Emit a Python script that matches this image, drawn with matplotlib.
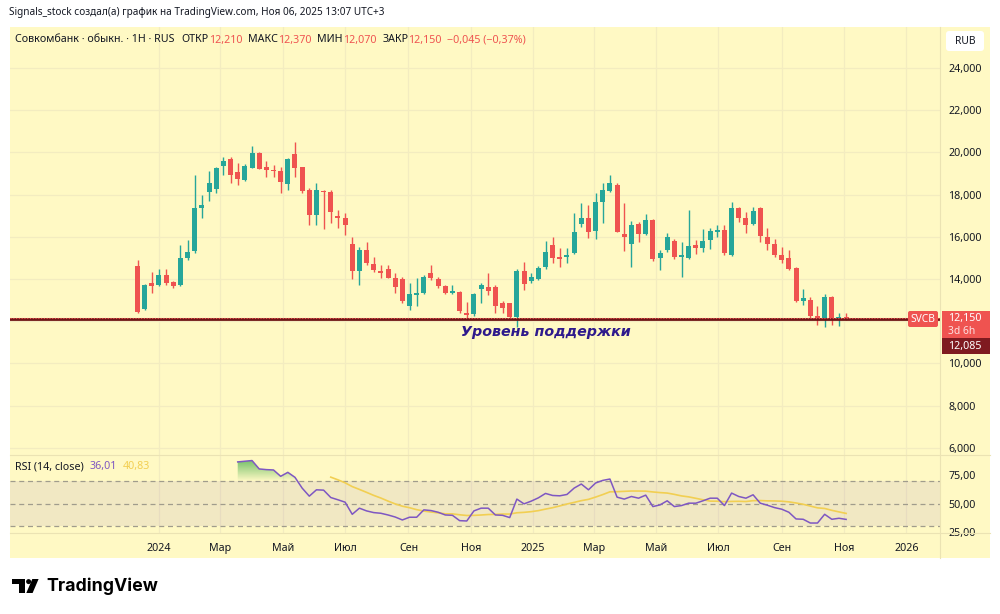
import numpy as np
import pandas as pd
import matplotlib
matplotlib.use("Agg")
import matplotlib.pyplot as plt
import matplotlib.dates as mdates
from matplotlib.patches import Rectangle, FancyBboxPatch, Polygon, Circle
from matplotlib.path import Path

plt.rcParams['font.family'] = ['Noto Sans', 'DejaVu Sans']

# ---------------- data ----------------
first_week = "2023-12-11"
n_weeks = 100
opens = [14.62, 12.58, 13.80, 13.70, 14.18, 13.87, 13.70, 14.98, 15.34, 17.38,
         18.12, 18.28, 19.36, 19.70, 19.06, 18.69, 19.28, 19.99, 19.31, 19.17,
         19.13, 18.50, 19.91, 19.29, 18.22, 17.03, 18.19, 18.14, 17.00, 16.91,
         15.64, 14.40, 15.37, 14.70, 14.39, 14.46, 14.06, 14.00, 12.72, 13.26,
         13.35, 14.30, 14.00, 13.67, 13.35, 13.40, 12.37, 12.33, 13.51, 13.61,
         13.61, 12.85, 12.85, 12.18, 14.39, 13.92, 13.99, 14.55, 15.61, 15.06,
         15.06, 15.22, 16.61, 16.88, 16.29, 17.66, 18.19, 18.45, 16.13, 15.66,
         16.59, 16.13, 16.80, 14.98, 15.37, 15.80, 15.06, 14.98, 15.61, 15.46,
         15.85, 16.24, 16.32, 15.14, 17.38, 16.88, 16.61, 17.35, 16.00, 15.64,
         15.14, 14.98, 14.51, 12.97, 13.00, 12.25, 12.14, 13.16, 12.09, 12.21]
highs = [14.90, 13.76, 14.35, 14.46, 14.46, 13.92, 15.61, 15.85, 18.93, 17.98,
         19.12, 19.32, 19.80, 19.80, 19.48, 19.45, 20.30, 20.03, 19.61, 19.40,
         19.32, 19.72, 20.48, 19.32, 18.30, 18.56, 18.22, 18.22, 17.27, 17.11,
         15.98, 15.53, 15.77, 15.03, 14.66, 14.66, 14.27, 14.11, 13.80, 14.03,
         14.19, 14.66, 14.11, 13.72, 13.72, 13.43, 12.92, 13.32, 13.80, 14.30,
         13.72, 12.97, 12.85, 14.46, 14.82, 14.27, 14.62, 15.81, 15.98, 15.45,
         15.45, 17.11, 17.59, 17.51, 18.09, 18.54, 18.93, 18.54, 17.59, 16.77,
         16.72, 17.08, 16.83, 15.37, 16.17, 15.88, 15.77, 17.27, 15.85, 16.36,
         16.40, 16.56, 16.56, 17.66, 17.43, 17.19, 17.40, 17.43, 16.40, 15.88,
         15.53, 15.37, 14.56, 13.51, 13.13, 12.72, 13.27, 13.19, 12.40, 12.37]
lows = [12.39, 12.53, 13.32, 13.67, 13.72, 13.56, 13.67, 14.90, 15.25, 16.88,
        17.70, 18.06, 18.93, 18.56, 18.45, 18.66, 19.28, 19.21, 18.85, 18.85,
        18.06, 18.22, 18.85, 18.06, 16.56, 16.56, 16.37, 16.67, 16.40, 16.09,
        14.00, 13.72, 14.66, 14.35, 14.03, 14.03, 13.32, 12.88, 12.53, 12.72,
        13.29, 13.95, 13.56, 13.29, 13.29, 12.37, 12.14, 12.25, 12.88, 13.24,
        12.37, 12.37, 12.14, 11.74, 13.48, 13.80, 13.95, 14.46, 14.74, 14.55,
        14.74, 15.18, 16.48, 15.93, 15.88, 16.64, 18.14, 16.24, 15.34, 14.58,
        15.77, 16.09, 14.87, 14.43, 15.29, 14.93, 14.11, 14.93, 15.18, 15.29,
        15.41, 16.01, 15.14, 15.09, 16.72, 16.17, 16.56, 15.77, 15.37, 15.06,
        14.74, 14.43, 12.93, 12.77, 12.14, 11.82, 11.71, 11.82, 11.77, 12.07]
closes = [12.45, 13.72, 13.67, 14.18, 13.80, 13.67, 14.98, 15.29, 17.35, 17.49,
          18.56, 19.28, 19.59, 18.93, 18.75, 19.36, 19.99, 19.21, 19.15, 19.13,
          18.58, 19.67, 19.25, 18.19, 17.03, 18.22, 18.11, 17.16, 16.88, 16.56,
          14.38, 15.37, 14.77, 14.43, 14.27, 14.06, 13.63, 12.97, 13.27, 13.32,
          14.11, 14.03, 13.67, 13.32, 13.43, 12.48, 12.29, 13.27, 13.72, 13.43,
          12.72, 12.64, 12.21, 14.39, 13.76, 14.08, 14.51, 15.29, 14.98, 14.95,
          15.15, 16.24, 16.88, 16.24, 17.66, 18.22, 18.56, 16.24, 15.98, 16.56,
          16.13, 16.80, 14.93, 15.22, 16.00, 15.06, 15.12, 15.58, 15.46, 15.81,
          16.27, 16.32, 15.25, 17.38, 16.88, 16.56, 17.24, 16.04, 15.64, 15.14,
          14.90, 14.46, 12.96, 13.09, 12.25, 12.14, 13.16, 12.09, 12.18, 12.15]

rsi_first = 14  # RSI(14) starts at the 15th candle
rsi_vals = [86.7, 87.3, 87.9, 80.5, 79.9, 79.6, 74.0, 77.5, 73.1, 63.6,
            56.5, 62.1, 61.8, 55.3, 53.3, 51.2, 40.5, 45.9, 43.5, 42.0,
            41.4, 39.9, 38.1, 35.5, 37.9, 37.9, 44.4, 43.8, 42.3, 39.9,
            39.6, 34.9, 34.6, 43.5, 45.9, 45.9, 39.9, 39.6, 37.6, 53.9,
            49.7, 52.1, 55.0, 58.9, 57.1, 56.8, 58.0, 63.6, 67.2, 62.1,
            68.1, 70.4, 71.6, 55.6, 53.9, 56.2, 54.7, 57.4, 47.3, 48.8,
            52.4, 47.3, 48.2, 50.3, 50.3, 52.4, 54.7, 54.7, 48.2, 59.2,
            56.2, 54.7, 57.7, 50.3, 48.5, 46.4, 45.0, 42.3, 36.4, 36.1,
            32.8, 32.8, 40.5, 36.1, 37.0, 36.0]
rsi_ma_len = 14
rsi_legend_value = "36,01"
rsi_ma_legend_value = "40,83"

price_ticks = [6, 8, 10, 12, 14, 16, 18, 20, 22, 24]
price_tick_labels = ["6,000", "8,000", "10,000", "", "14,000", "16,000",
                     "18,000", "20,000", "22,000", "24,000"]
rsi_ticks = [25, 50, 75]
rsi_tick_labels = ["25,00", "50,00", "75,00"]
month_ticks = ["2024-01-01", "2024-03-01", "2024-05-01", "2024-07-01", "2024-09-01",
               "2024-11-01", "2025-01-01", "2025-03-01", "2025-05-01", "2025-07-01",
               "2025-09-01", "2025-11-01", "2026-01-01"]
month_labels = ["2024", "Мар", "Май", "Июл", "Сен", "Ноя", "2025", "Мар", "Май",
                "Июл", "Сен", "Ноя", "2026"]
support_level = 12.085
last_price = 12.150

# ---------------- style ----------------
W, H = 1000, 614
BG = '#fff9c4'
GREEN = '#26a69a'
RED = '#ef5350'
DARK = '#131722'
PURPLE = '#7e57c2'
YELLOW = '#f2cf52'
GRID = '#f3ecc0'

fig = plt.figure(figsize=(W / 100, H / 100), dpi=100)
fig.patch.set_facecolor('white')

def fr(x0, y0, x1, y1):
    return [x0 / W, 1 - y1 / H, (x1 - x0) / W, (y1 - y0) / H]

# background layer (pixel coords)
bg = fig.add_axes([0, 0, 1, 1], zorder=-5)
bg.set_xlim(0, W); bg.set_ylim(H, 0); bg.axis('off')
bg.add_patch(Rectangle((10, 27), 980, 531, facecolor=BG, edgecolor='none'))

PL, PR = 10, 940
ax = fig.add_axes(fr(PL, 27, PR, 455), zorder=1)
ax2 = fig.add_axes(fr(PL, 455, PR, 533), zorder=1, sharex=ax)
for a in (ax, ax2):
    a.set_facecolor('none')
    for s in a.spines.values():
        s.set_visible(False)

dates = pd.date_range(first_week, periods=n_weeks, freq='7D')
d = mdates.date2num(dates.to_pydatetime())
o = np.array(opens); h = np.array(highs); l = np.array(lows); c = np.array(closes)
col = np.where(c >= o, GREEN, RED)

x0 = mdates.date2num(pd.Timestamp("2024-01-01")) - 145.7
x1 = mdates.date2num(pd.Timestamp("2026-01-01")) + 32.8
ax.set_xlim(x0, x1)
ax.set_ylim(5.66, 25.94)

tick_d = mdates.date2num(pd.to_datetime(month_ticks).to_pydatetime())
ax.set_xticks(tick_d)
ax.set_yticks(price_ticks)
ax.set_yticklabels(price_tick_labels)
ax.yaxis.tick_right()
ax.tick_params(axis='y', length=0, pad=6, labelsize=7.7, colors=DARK)
ax.tick_params(axis='x', length=0, labelbottom=False)
ax.grid(True, color=GRID, lw=0.9, zorder=0)
ax.set_axisbelow(True)

# candles
ax.vlines(d, l, h, colors=col, lw=1.0, zorder=3)
body_bot = np.minimum(o, c)
body_h = np.maximum(np.abs(c - o), 0.05)
ax.bar(d, body_h, bottom=body_bot, width=4.9, color=col, lw=0, zorder=4)

# support and last price lines
ax.axhline(support_level, color='#6d1414', lw=2.0, zorder=5)
ax.axhline(last_price, color=RED, lw=0.8, ls=(0, (1, 1.5)), zorder=5)
ax.text(mdates.date2num(pd.Timestamp("2025-01-01")) + 12, support_level - 0.25,
        "Уровень поддержки", color='#2e1a8c', fontsize=10.3, fontweight='bold',
        fontstyle='italic', family=['DejaVu Sans'], ha='center', va='top', zorder=6)

# RSI pane
rsi = np.array(rsi_vals)
rd = d[rsi_first:rsi_first + len(rsi)]
ma = pd.Series(rsi).rolling(rsi_ma_len).mean().to_numpy()
ax2.set_ylim(24.0, 92.8)
ax2.axhspan(30, 70, color=PURPLE, alpha=0.1, lw=0, zorder=1)
for lv in (70, 50, 30):
    ax2.axhline(lv, color='#a09c8c', lw=0.9, ls=(0, (4, 3)), zorder=2)
ax2.set_yticks(rsi_ticks)
ax2.set_yticklabels(rsi_tick_labels)
ax2.yaxis.tick_right()
ax2.tick_params(axis='y', length=0, pad=6, labelsize=7.7, colors=DARK)
ax2.set_xticks(tick_d)
ax2.set_xticklabels(month_labels)
ax2.tick_params(axis='x', length=0, pad=7, labelsize=7.7, colors=DARK)
for t in ax2.get_xticklabels():
    if t.get_text().isdigit():
        t.set_fontweight('bold')
ax2.grid(True, axis='x', color=GRID, lw=0.9, zorder=0)
ax2.set_axisbelow(True)

# overbought gradient fill
fb = ax2.fill_between(rd, rsi, 70, where=rsi > 70, interpolate=True,
                      facecolor='none', edgecolor='none')
paths = fb.get_paths()
if paths:
    grad = np.zeros((256, 1, 4))
    grad[:, 0, 0] = 0.30; grad[:, 0, 1] = 0.69; grad[:, 0, 2] = 0.31
    grad[:, 0, 3] = np.linspace(0.85, 0.0, 256)
    im = ax2.imshow(grad, extent=[x0, x1, 70, 90], aspect='auto', origin='upper',
                    zorder=2, interpolation='bilinear')
    im.set_clip_path(Path.make_compound_path(*paths), transform=ax2.transData)
ax2.set_xlim(x0, x1)
ax2.set_ylim(24.0, 92.8)

ax2.plot(rd, ma, color=YELLOW, lw=1.2, zorder=3)
ax2.plot(rd, rsi, color=PURPLE, lw=1.1, zorder=4)

# ---------------- overlay (pixel coords) ----------------
ov = fig.add_axes([0, 0, 1, 1], zorder=10)
ov.set_xlim(0, W); ov.set_ylim(H, 0); ov.axis('off')
ov.patch.set_visible(False)

# separators
ov.plot([10, 990], [455, 455], color='#ebe3b3', lw=0.8)
ov.plot([10, 990], [533, 533], color='#ebe3b3', lw=0.8)
ov.plot([940, 940], [27, 558], color='#ebe3b3', lw=0.8)

renderer = fig.canvas.get_renderer()

def seq(x, y, pieces, size, **kw):
    for s, colr, gap in pieces:
        t = ov.text(x, y, s, color=colr, fontsize=size, ha='left', va='center', **kw)
        bb = t.get_window_extent(renderer)
        x += bb.width + gap
    return x

ov.text(9, 13, "Signals_stock создал(а) график на TradingView.com, Ноя 06, 2025 13:07 UTC+3",
        color=DARK, fontsize=7.2, ha='left', va='center')
seq(15, 40, [("Совкомбанк · обыкн. · 1H · RUS", DARK, 7),
             ("ОТКР", DARK, 0), ("12,210", RED, 6),
             ("МАКС", DARK, 0), ("12,370", RED, 6),
             ("МИН", DARK, 0), ("12,070", RED, 6),
             ("ЗАКР", DARK, 0), ("12,150", RED, 5),
             ("−0,045 (−0,37%)", RED, 0)], 7.7)
seq(15, 467, [("RSI (14, close)", DARK, 6),
              (rsi_legend_value, PURPLE, 6),
              (rsi_ma_legend_value, YELLOW, 0)], 7.7)

# RUB box
ov.add_patch(FancyBboxPatch((946, 31), 38, 20, boxstyle="round,pad=0,rounding_size=3",
                            facecolor='white', edgecolor='none'))
ov.text(965, 41, "RUB", color=DARK, fontsize=7.4, ha='center', va='center')

# price labels on the right
ov.add_patch(FancyBboxPatch((908, 311), 30, 16, boxstyle="round,pad=0,rounding_size=2",
                            facecolor=RED, edgecolor='none'))
ov.text(923, 319, "SVCB", color='white', fontsize=7.4, ha='center', va='center')
ov.add_patch(Rectangle((942, 311), 48, 27, facecolor=RED, edgecolor='none'))
ov.text(948, 318, f"{last_price:.3f}".replace('.', ','), color='white', fontsize=7.7,
        ha='left', va='center')
ov.text(948, 331, "3d 6h", color='#fde0e0', fontsize=7.4, ha='left', va='center')
ov.add_patch(Rectangle((942, 338), 48, 16, facecolor='#7f1a20', edgecolor='none'))
ov.text(948, 346, f"{support_level:.3f}".replace('.', ','), color='white', fontsize=7.7,
        ha='left', va='center')

# TradingView logo
ov.add_patch(Rectangle((11.7, 579), 13, 4.6, facecolor='black', edgecolor='none'))
ov.add_patch(Rectangle((18.6, 579), 6.1, 14, facecolor='black', edgecolor='none'))
ov.add_patch(Circle((28.6, 581.6), 2.5, facecolor='black', edgecolor='none'))
ov.add_patch(Polygon([(32.3, 579), (38.6, 579), (32.6, 593), (26.3, 593)],
                     closed=True, facecolor='black', edgecolor='none'))
ov.text(46, 586, "TradingView", color='black', fontsize=12.8, fontweight='bold',
        family=['Inter', 'DejaVu Sans'], ha='left', va='center')

fig.savefig("out.png", dpi=100, facecolor='white')
